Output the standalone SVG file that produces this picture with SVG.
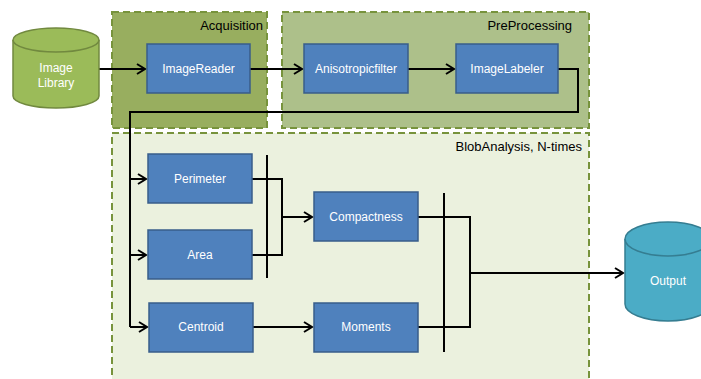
<svg xmlns="http://www.w3.org/2000/svg" width="701" height="379" viewBox="0 0 701 379">
<style>
.grp{stroke:#77933c;stroke-width:2;stroke-dasharray:7,4}
.box{fill:#4f81bd;stroke:#385d8a;stroke-width:1.5}
.lbl{font-family:"Liberation Sans",Arial,sans-serif;font-size:12px;fill:#fff;text-anchor:middle}
.title{font-family:"Liberation Sans",Arial,sans-serif;font-size:13px;fill:#000;text-anchor:end}
.ln{fill:none;stroke:#000;stroke-width:2}
</style>
<defs>
<marker id="arr" markerWidth="12" markerHeight="12" refX="10" refY="6" orient="auto" markerUnits="userSpaceOnUse">
<polyline points="2,1 10,6 2,11" fill="none" stroke="#000" stroke-width="2"/>
</marker>
</defs>
<rect width="701" height="379" fill="#fff"/>
<g id="acquisition">
<rect class="grp" x="112" y="12" width="155" height="116" fill="#98ae5f"/>
<text class="title" x="263" y="30">Acquisition</text>
</g>
<g id="preprocessing">
<rect class="grp" x="282" y="12" width="307" height="116" fill="#adc08a"/>
<text class="title" x="572" y="30">PreProcessing</text>
</g>
<g id="bloba">
<rect class="grp" x="112" y="133" width="477" height="260" fill="#ebf1de"/>
<text class="title" x="582" y="151">BlobAnalysis, N-times</text>
</g>
<g id="connectors">
<line class="ln" x1="99" y1="69" x2="145" y2="69" marker-end="url(#arr)"/>
<line class="ln" x1="250" y1="69" x2="302" y2="69" marker-end="url(#arr)"/>
<line class="ln" x1="408" y1="69" x2="454" y2="69" marker-end="url(#arr)"/>
<polyline class="ln" points="558,69 578,69 578,112 130,112 130,327"/>
<line class="ln" x1="130" y1="179" x2="146" y2="179" marker-end="url(#arr)"/>
<line class="ln" x1="130" y1="255" x2="146" y2="255" marker-end="url(#arr)"/>
<line class="ln" x1="130" y1="327" x2="147" y2="327" marker-end="url(#arr)"/>
<line class="ln" x1="267" y1="155" x2="267" y2="278"/>
<polyline class="ln" points="252,179 282,179 282,255 252,255"/>
<line class="ln" x1="282" y1="217" x2="312" y2="217" marker-end="url(#arr)"/>
<line class="ln" x1="253" y1="327" x2="312" y2="327" marker-end="url(#arr)"/>
<line class="ln" x1="444" y1="193" x2="444" y2="352"/>
<polyline class="ln" points="418,217 470,217 470,327 418,327"/>
<line class="ln" x1="470" y1="273" x2="623" y2="273" marker-end="url(#arr)"/>
</g>
<g id="imagelibrary">
<path d="M13,40 L13,96 A43,12 0 0 0 99,96 L99,40" fill="#9bbb59" stroke="#71893f" stroke-width="1.5"/>
<ellipse cx="56" cy="40" rx="43" ry="12" fill="#9bbb59" stroke="#71893f" stroke-width="1.5"/>
<text class="lbl" x="56" y="72">Image</text>
<text class="lbl" x="56" y="87">Library</text>
</g>
<g id="imagereader">
<rect class="box" x="147" y="44" width="103" height="49"/>
<text class="lbl" x="198.5" y="73">ImageReader</text>
</g>
<g id="anisotropicfilter">
<rect class="box" x="304" y="44" width="104" height="49"/>
<text class="lbl" x="356" y="73">Anisotropicfilter</text>
</g>
<g id="imagelabeler">
<rect class="box" x="456" y="44" width="102" height="49"/>
<text class="lbl" x="507" y="73">ImageLabeler</text>
</g>
<g id="perimeter">
<rect class="box" x="148" y="154" width="104" height="49"/>
<text class="lbl" x="200" y="183">Perimeter</text>
</g>
<g id="area">
<rect class="box" x="148" y="230" width="104" height="49"/>
<text class="lbl" x="200" y="259">Area</text>
</g>
<g id="centroid">
<rect class="box" x="149" y="303" width="104" height="49"/>
<text class="lbl" x="201" y="331">Centroid</text>
</g>
<g id="compactness">
<rect class="box" x="314" y="192" width="104" height="49"/>
<text class="lbl" x="366" y="221">Compactness</text>
</g>
<g id="moments">
<rect class="box" x="314" y="303" width="104" height="49"/>
<text class="lbl" x="366" y="331">Moments</text>
</g>
<g id="output">
<path d="M625,239 L625,304 A43,17 0 0 0 711,304 L711,239" fill="#4bacc6" stroke="#357d91" stroke-width="1.5"/>
<ellipse cx="668" cy="239" rx="43" ry="17" fill="#4bacc6" stroke="#357d91" stroke-width="1.5"/>
<text class="lbl" x="668" y="285">Output</text>
</g>
</svg>
